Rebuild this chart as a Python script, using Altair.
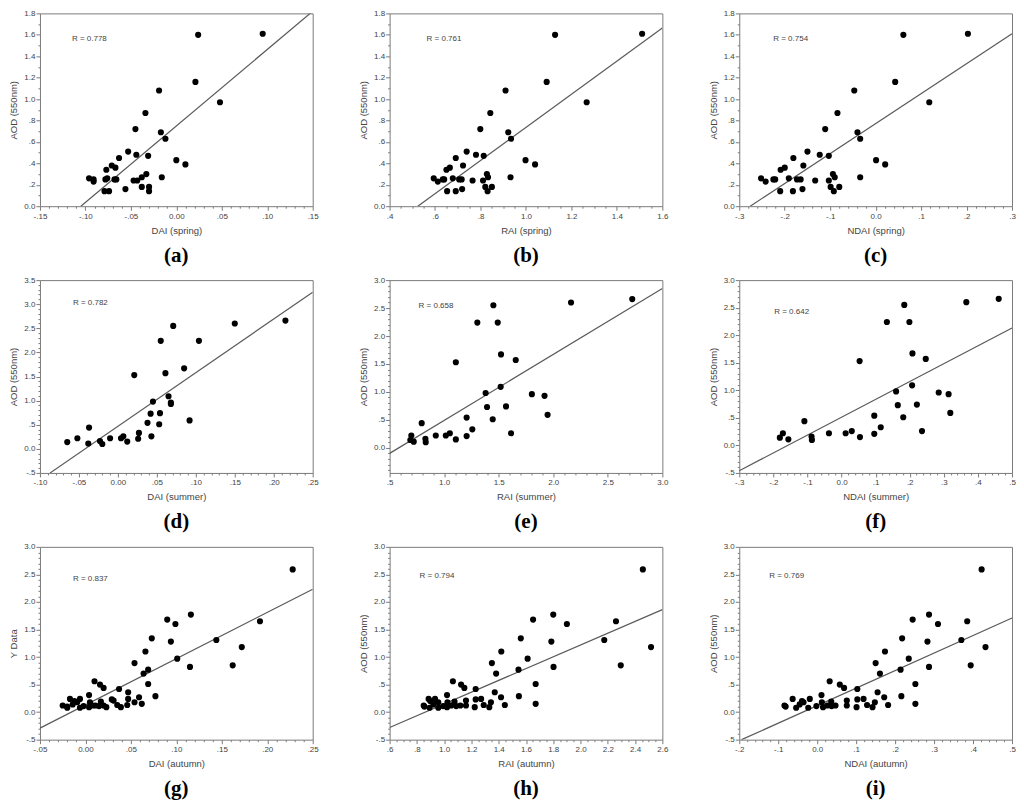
import altair as alt
import numpy as np
import pandas as pd

# ---------------- data ----------------
spring_aod = [1.60, 1.61, 1.16, 0.97, 1.08, 0.87, 0.72, 0.69, 0.63, 0.51, 0.48, 0.47, 0.45, 0.43, 0.39, 0.38, 0.36, 0.34,
              0.30, 0.27, 0.27, 0.26, 0.23, 0.25, 0.25, 0.26, 0.25, 0.25, 0.24, 0.24, 0.18, 0.18, 0.14, 0.16, 0.14, 0.14]
spring_dai = [0.024, 0.095, 0.021, 0.048, -0.019, -0.034, -0.045, -0.017, -0.012, -0.053, -0.044, -0.031, -0.063, 0.000,
              0.010, -0.071, -0.067, -0.077, -0.033, -0.038, -0.016, -0.096, -0.091, -0.091, -0.078, -0.076, -0.066,
              -0.068, -0.047, -0.043, -0.038, -0.030, -0.030, -0.056, -0.079, -0.074]
spring_rai = [1.128, 1.511, 1.091, 1.267, 0.910, 0.843, 0.799, 0.922, 0.934, 0.739, 0.780, 0.814, 0.691, 0.998, 1.040,
              0.723, 0.665, 0.650, 0.828, 0.833, 0.932, 0.594, 0.612, 0.634, 0.640, 0.678, 0.706, 0.717, 0.765, 0.811,
              0.821, 0.850, 0.831, 0.719, 0.653, 0.691]
spring_ndai = [0.061, 0.203, 0.043, 0.118, -0.047, -0.084, -0.111, -0.040, -0.034, -0.150, -0.123, -0.103, -0.181, 0.001,
               0.021, -0.159, -0.200, -0.209, -0.094, -0.090, -0.034, -0.252, -0.242, -0.225, -0.221, -0.191, -0.173,
               -0.165, -0.133, -0.103, -0.099, -0.080, -0.092, -0.161, -0.210, -0.182]

summer_aod = [0.14, 0.22, 0.44, 0.11, 0.16, 0.10, 0.22, 0.22, 0.26, 0.15, 1.53, 0.21, 0.33, 0.54, 0.73, 0.26, 0.98, 0.51,
              0.74, 2.24, 1.57, 1.09, 0.96, 0.93, 2.55, 1.67, 0.59, 2.24, 2.60, 2.66]
summer_dai = [-0.065, -0.052, -0.037, -0.038, -0.023, -0.020, -0.010, 0.004, 0.007, 0.012, 0.021, 0.026, 0.027, 0.038,
              0.042, 0.043, 0.045, 0.053, 0.054, 0.055, 0.061, 0.065, 0.068, 0.068, 0.071, 0.085, 0.092, 0.104, 0.150,
              0.215]
summer_rai = [0.690, 0.699, 0.794, 0.721, 0.828, 0.831, 0.923, 1.015, 1.052, 1.107, 1.107, 1.206, 1.258, 1.206, 1.393,
              1.613, 1.380, 1.445, 1.567, 1.304, 1.656, 1.518, 1.804, 1.920, 1.451, 1.521, 1.948, 1.491, 2.163, 2.724]
summer_ndai = [-0.181, -0.172, -0.109, -0.156, -0.088, -0.087, -0.037, 0.012, 0.030, 0.054, 0.053, 0.096, 0.115, 0.096,
               0.165, 0.236, 0.160, 0.181, 0.221, 0.133, 0.247, 0.207, 0.285, 0.314, 0.184, 0.208, 0.319, 0.199, 0.366,
               0.461]

autumn_aod = [2.59, 1.18, 0.85, 1.65, 1.31, 1.60, 1.77, 1.28, 0.82, 1.68, 0.97, 0.51, 0.15, 1.34, 0.77, 0.29, 1.10, 0.89,
              0.70, 0.36, 0.27, 0.13, 0.18, 0.09, 0.13, 0.24, 0.42, 0.23, 0.09, 0.21, 0.12, 0.44, 0.50, 0.56, 0.19, 0.11,
              0.12, 0.31, 0.18, 0.09, 0.12, 0.11, 0.18, 0.08, 0.24, 0.14, 0.20, 0.24, 0.08, 0.12, 0.10]
autumn_dai = [0.228, 0.172, 0.162, 0.192, 0.144, 0.099, 0.116, 0.094, 0.115, 0.090, 0.101, 0.069, 0.062, 0.073, 0.069,
              0.077, 0.066, 0.054, 0.064, 0.047, 0.059, 0.046, 0.054, 0.039, 0.035, 0.047, 0.037, 0.029, 0.023, 0.031,
              0.020, 0.020, 0.016, 0.010, 0.017, 0.015, 0.008, 0.004, 0.005, 0.004, 0.011, -0.002, -0.009, -0.006,
              -0.006, -0.014, -0.012, -0.017, -0.020, -0.025, -0.020]
autumn_rai = [2.457, 2.517, 2.295, 2.260, 2.174, 1.900, 1.800, 1.786, 1.802, 1.652, 1.612, 1.671, 1.671, 1.562, 1.545,
              1.548, 1.419, 1.350, 1.381, 1.371, 1.417, 1.445, 1.343, 1.331, 1.290, 1.271, 1.231, 1.231, 1.224, 1.160,
              1.160, 1.148, 1.124, 1.064, 1.076, 1.088, 1.119, 1.021, 1.024, 1.021, 1.052, 0.993, 0.957, 0.957, 0.933,
              0.921, 0.898, 0.886, 0.893, 0.850, 0.855]
autumn_ndai = [0.422, 0.432, 0.394, 0.385, 0.370, 0.310, 0.287, 0.283, 0.287, 0.245, 0.235, 0.252, 0.252, 0.218, 0.214,
               0.216, 0.174, 0.150, 0.161, 0.155, 0.172, 0.182, 0.148, 0.142, 0.128, 0.119, 0.103, 0.103, 0.101, 0.076,
               0.076, 0.069, 0.058, 0.032, 0.036, 0.037, 0.047, 0.011, 0.012, 0.015, 0.026, -0.002, -0.035, -0.023,
               -0.019, -0.045, -0.039, -0.063, -0.054, -0.084, -0.081]

# regression line end points
fit_a_x, fit_a_y = [-0.105, 0.15], [0.0, 1.82]
fit_b_x, fit_b_y = [0.524, 1.6], [0.0, 1.663]
fit_c_x, fit_c_y = [-0.276, 0.3], [0.0, 1.61]
fit_d_x, fit_d_y = [-0.087, 0.25], [-0.5, 3.25]
fit_e_x, fit_e_y = [0.5, 3.0], [-0.10, 2.85]
fit_f_x, fit_f_y = [-0.3, 0.5], [-0.46, 2.13]
fit_g_x, fit_g_y = [-0.05, 0.25], [-0.29, 2.23]
fit_h_x, fit_h_y = [0.6, 2.6], [-0.28, 1.86]
fit_i_x, fit_i_y = [-0.194, 0.5], [-0.50, 1.71]

r_labels = ["R = 0.778", "R = 0.761", "R = 0.754", "R = 0.782", "R = 0.658", "R = 0.642",
            "R = 0.837", "R = 0.794", "R = 0.769"]
x_titles = ["DAI (spring)", "RAI (spring)", "NDAI (spring)", "DAI (summer)", "RAI (summer)", "NDAI (summer)",
            "DAI (autumn)", "RAI (autumn)", "NDAI (autumn)"]
y_titles = ["AOD (550nm)"] * 6 + ["Y Data", "AOD (550nm)", "AOD (550nm)"]
letters = ["(a)", "(b)", "(c)", "(d)", "(e)", "(f)", "(g)", "(h)", "(i)"]

W, H = 273, 193
GRAY = "#444444"


def tick_values(lo, hi, step):
    vals = np.arange(lo, hi + step / 2.0, step)
    return [round(float(v), 6) for v in vals if lo - 1e-9 <= v <= hi + 1e-9]


def major_test(step):
    return f"abs(datum.value/{step} - round(datum.value/{step})) < 0.001"


def label_expr(step, dec):
    fmt = f"'.{dec}f'"
    s = f"format(abs(datum.value), {fmt})"
    return (f"({major_test(step)}) ? (abs(datum.value) < 1e-9 ? format(0, {fmt}) : "
            f"((datum.value < 0 ? '-' : '') + (abs(datum.value) < 1 ? substring({s}, 1) : {s}))) : ''")


def make_axis(lo, hi, major, minor, dec, title):
    return alt.Axis(values=tick_values(lo, hi, minor), labelExpr=label_expr(major, dec),
                    tickSize={"condition": {"test": major_test(major), "value": 4}, "value": 2},
                    title=title, labelOverlap=False, labelFlush=False)


def panel(i, xs, ys, fx, fy, xdom, xmaj, xmin, xdec, ydom, ymaj, ymin, ylo, rpos):
    pts = pd.DataFrame({"x": xs, "y": ys})
    fit = pd.DataFrame({"x": fx, "y": fy})
    xsc = alt.Scale(domain=xdom, nice=False, zero=False)
    ysc = alt.Scale(domain=ydom, nice=False, zero=False)
    xax = make_axis(xdom[0], xdom[1], xmaj, xmin, xdec, x_titles[i])
    yax = make_axis(ylo, ydom[1], ymaj, ymin, 1, y_titles[i])
    enc = dict(x=alt.X("x:Q", scale=xsc, axis=xax), y=alt.Y("y:Q", scale=ysc, axis=yax))
    line = alt.Chart(fit).mark_line(color="#5a5a5a", strokeWidth=1.2, clip=True).encode(**enc)
    dots = alt.Chart(pts).mark_circle(size=38, color="black", opacity=1).encode(**enc)
    txt = alt.Chart(pd.DataFrame({"t": [r_labels[i]]})).mark_text(
        align="left", baseline="middle", fontSize=8, color=GRAY, font="Liberation Sans"
    ).encode(x=alt.value(rpos[0]), y=alt.value(rpos[1]), text="t:N")
    return alt.layer(line, dots, txt).properties(
        width=W, height=H,
        title=alt.TitleParams(letters[i], orient="bottom", font="Liberation Serif", fontSize=21,
                              fontWeight="bold", color="black", offset=10, anchor="middle"))


panels = [
    panel(0, spring_dai, spring_aod, fit_a_x, fit_a_y, [-0.15, 0.15], 0.05, 0.01, 2, [0, 1.8], 0.2, 0.1, 0, (32, 26)),
    panel(1, spring_rai, spring_aod, fit_b_x, fit_b_y, [0.4, 1.6], 0.2, 0.05, 1, [0, 1.8], 0.2, 0.1, 0, (37, 26)),
    panel(2, spring_ndai, spring_aod, fit_c_x, fit_c_y, [-0.3, 0.3], 0.1, 0.02, 1, [0, 1.8], 0.2, 0.1, 0, (34, 26)),
    panel(3, summer_dai, summer_aod, fit_d_x, fit_d_y, [-0.10, 0.25], 0.05, 0.01, 2, [-0.5, 3.5], 0.5, 0.1, -0.5, (33, 23)),
    panel(4, summer_rai, summer_aod, fit_e_x, fit_e_y, [0.5, 3.0], 0.5, 0.1, 1, [-0.45, 3.0], 0.5, 0.1, -0.4, (29, 26)),
    panel(5, summer_ndai, summer_aod, fit_f_x, fit_f_y, [-0.3, 0.5], 0.1, 0.02, 1, [-0.5, 3.0], 0.5, 0.1, -0.5, (35, 32)),
    panel(6, autumn_dai, autumn_aod, fit_g_x, fit_g_y, [-0.05, 0.25], 0.05, 0.01, 2, [-0.5, 3.0], 0.5, 0.1, -0.5, (33, 32)),
    panel(7, autumn_rai, autumn_aod, fit_h_x, fit_h_y, [0.6, 2.6], 0.2, 0.05, 1, [-0.5, 3.0], 0.5, 0.1, -0.5, (30, 29)),
    panel(8, autumn_ndai, autumn_aod, fit_i_x, fit_i_y, [-0.2, 0.5], 0.1, 0.02, 1, [-0.5, 3.0], 0.5, 0.1, -0.5, (30, 29)),
]

chart = alt.concat(*panels, columns=3, spacing={"row": 74, "column": 77}, bounds="flush").properties(
    padding=0
).configure_view(
    stroke="#7a7a7a", strokeWidth=1
).configure_axis(
    grid=False, domain=False, tickColor="#7a7a7a", tickWidth=1,
    labelFont="Liberation Sans", labelFontSize=8, labelColor=GRAY,
    titleFont="Liberation Sans", titleFontSize=9.5, titleFontWeight="normal", titleColor=GRAY
).configure_axisX(
    labelPadding=2, titlePadding=5
).configure_axisY(
    labelPadding=1, titlePadding=5, minExtent=16, maxExtent=16
)

chart.save("out.html", embed_options={"renderer": "svg", "actions": False})
